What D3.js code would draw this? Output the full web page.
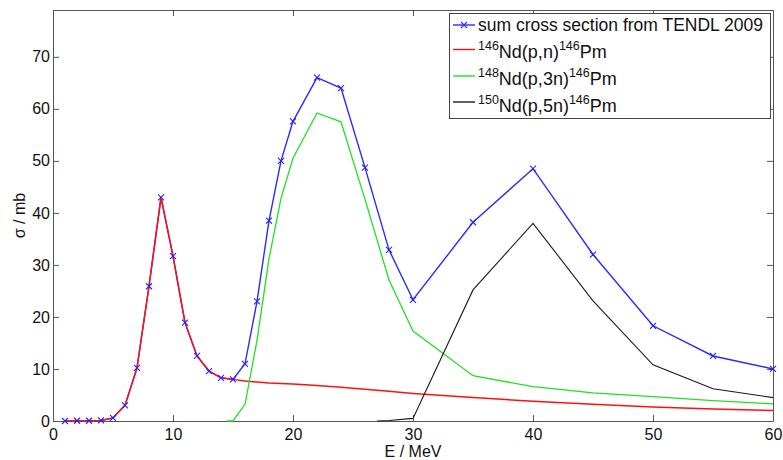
<!DOCTYPE html>
<html>
<head>
<meta charset="utf-8">
<script src="https://cdn.jsdelivr.net/npm/d3@7"></script>
<style>
  body { margin: 0; background: #fff; }
  text { font-family: "Liberation Sans", Arial, sans-serif; fill: #111; }
</style>
</head>
<body>
<div id="chart"></div>
<script>
// energies (MeV) and cross sections (mb)
const sumE = [1, 2, 3, 4, 5, 6, 7, 8, 9, 10, 11, 12, 13, 14, 15, 16, 17, 18, 19, 20, 22, 24, 26, 28, 30, 35, 40, 45, 50, 55, 60]
const sumSigma = [0, 0.05, 0.05, 0.1, 0.6, 3.0, 10.2, 25.9, 43.0, 31.7, 18.9, 12.5, 9.6, 8.3, 8.0, 11.0, 23.0, 38.5, 50.0, 57.6, 66.0, 64.0, 48.7, 32.9, 23.3, 38.2, 48.5, 32.0, 18.3, 12.5, 10.0]

const pnE = sumE
const pnSigma = [0, 0.05, 0.05, 0.1, 0.6, 3.0, 10.2, 25.9, 43.0, 31.7, 18.9, 12.5, 9.6, 8.3, 8.0, 7.7, 7.5, 7.3, 7.2, 7.1, 6.8, 6.5, 6.1, 5.7, 5.3, 4.5, 3.8, 3.2, 2.7, 2.3, 2.0]

const p3nE = [14.5, 15, 16, 17, 18, 19, 20, 22, 24, 26, 28, 30, 35, 40, 45, 50, 55, 60]
const p3nSigma = [0, 0, 3.2, 15.5, 31.2, 42.8, 50.5, 59.2, 57.5, 42.6, 27.1, 17.3, 8.7, 6.6, 5.4, 4.7, 3.9, 3.3]

const p5nE = [27, 28, 30, 35, 40, 45, 50, 55, 60]
const p5nSigma = [0, 0.1, 0.5, 25.2, 38.0, 23.1, 10.8, 6.2, 4.5]

const xTicks = [0, 10, 20, 30, 40, 50, 60]
const yTicks = [0, 10, 20, 30, 40, 50, 60, 70]

const width = 783, height = 460
const margin = { top: 10, right: 10, bottom: 39, left: 53 }
const w = width - margin.left - margin.right
const h = height - margin.top - margin.bottom

const svg = d3.select('#chart').append('svg')
  .attr('width', width)
  .attr('height', height)

const g = svg.append('g')
  .attr('transform', `translate(${margin.left},${margin.top})`)

const x = d3.scaleLinear().domain([0, 60]).range([0, w])
const y = d3.scaleLinear().domain([0, 79]).range([h, 0])

const axisColor = '#555'
const tickLen = 6

// box axes, ticks point inward like matlab
const styleAxis = (sel) => {
  sel.select('.domain').attr('stroke', axisColor)
  sel.selectAll('.tick line').attr('stroke', axisColor)
  sel.selectAll('.tick text').style('font-size', '16px').attr('fill', '#111')
}

g.append('g')
  .attr('transform', `translate(0,${h})`)
  .call(d3.axisBottom(x).tickValues(xTicks).tickSizeInner(-tickLen).tickSizeOuter(0).tickPadding(8))
  .call(styleAxis)

g.append('g')
  .call(d3.axisLeft(y).tickValues(yTicks).tickSizeInner(-tickLen).tickSizeOuter(0).tickPadding(3))
  .call(styleAxis)

g.append('g')
  .call(d3.axisTop(x).tickValues(xTicks).tickSizeInner(-tickLen).tickSizeOuter(0).tickFormat(''))
  .call(styleAxis)

g.append('g')
  .attr('transform', `translate(${w},0)`)
  .call(d3.axisRight(y).tickValues(yTicks).tickSizeInner(-tickLen).tickSizeOuter(0).tickFormat(''))
  .call(styleAxis)

// lines, in matlab plot order (sum first, the channels on top)
const line = d3.line().x(d => x(d[0])).y(d => y(d[1]))
const zip = (a, b) => a.map((v, i) => [v, b[i]])

const series = [
  { name: 'sum', data: zip(sumE, sumSigma), color: '#2a2aff', width: 1.4 },
  { name: 'pn', data: zip(pnE, pnSigma), color: '#ff1010', width: 1.5 },
  { name: 'p3n', data: zip(p3nE, p3nSigma), color: '#22e022', width: 1.3 },
  { name: 'p5n', data: zip(p5nE, p5nSigma), color: '#1a1a1a', width: 1.1 }
]

g.selectAll('.series')
  .data(series)
  .enter()
  .append('path')
  .attr('class', 'series')
  .attr('fill', 'none')
  .attr('stroke', d => d.color)
  .attr('stroke-width', d => d.width)
  .attr('d', d => line(d.data))

// x markers on the sum curve
const m = 3
g.append('g')
  .selectAll('path')
  .data(zip(sumE, sumSigma))
  .enter()
  .append('path')
  .attr('transform', d => `translate(${x(d[0])},${y(d[1])})`)
  .attr('d', `M${-m},${-m}L${m},${m}M${-m},${m}L${m},${-m}`)
  .attr('stroke', '#2222ff')
  .attr('stroke-width', 1.1)

// axis labels
svg.append('text')
  .attr('x', margin.left + w / 2)
  .attr('y', 457)
  .attr('text-anchor', 'middle')
  .style('font-size', '16px')
  .text('E / MeV')

svg.append('text')
  .attr('transform', `translate(25,${margin.top + h / 2}) rotate(-90)`)
  .attr('text-anchor', 'middle')
  .style('font-size', '16px')
  .text('σ / mb')

// legend
const legend = svg.append('g')
legend.append('rect')
  .attr('x', 449.5).attr('y', 13.5)
  .attr('width', 321).attr('height', 105)
  .attr('fill', '#fff')
  .attr('stroke', '#444')

const rows = [
  { color: '#2a2aff', marker: true, lineY: 25, base: 30.5, parts: [['sum cross section from TENDL 2009', false]], size: 17.5 },
  { color: '#ff1010', lineY: 49.5, base: 58, parts: [['146', true], ['Nd(p,n)', false], ['146', true], ['Pm', false]], size: 18 },
  { color: '#22e022', lineY: 76, base: 85, parts: [['148', true], ['Nd(p,3n)', false], ['146', true], ['Pm', false]], size: 18 },
  { color: '#1a1a1a', lineY: 102, base: 111.5, parts: [['150', true], ['Nd(p,5n)', false], ['146', true], ['Pm', false]], size: 18 }
]

rows.forEach(r => {
  legend.append('line')
    .attr('x1', 453).attr('x2', 475)
    .attr('y1', r.lineY).attr('y2', r.lineY)
    .attr('stroke', r.color)
    .attr('stroke-width', 1.4)
  if (r.marker) {
    legend.append('path')
      .attr('transform', `translate(464,${r.lineY})`)
      .attr('d', `M${-m},${-m}L${m},${m}M${-m},${m}L${m},${-m}`)
      .attr('stroke', r.color)
      .attr('stroke-width', 1.1)
  }
  const t = legend.append('text')
    .attr('x', 478)
    .attr('y', r.base)
    .style('font-size', r.size + 'px')
  r.parts.forEach(([s, sup], i) => {
    const prevSup = i > 0 && r.parts[i - 1][1]
    t.append('tspan')
      .attr('dy', sup ? -8 : (prevSup ? 8 : 0))
      .style('font-size', sup ? '12.5px' : null)
      .text(s)
  })
})
</script>
</body>
</html>
